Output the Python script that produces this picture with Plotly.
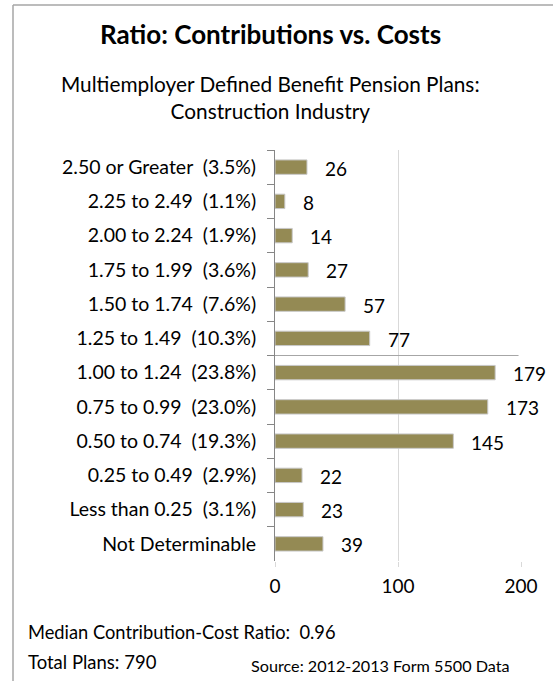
import plotly.graph_objects as go

categories = [
    "2.50 or Greater  (3.5%)",
    "2.25 to 2.49  (1.1%)",
    "2.00 to 2.24  (1.9%)",
    "1.75 to 1.99  (3.6%)",
    "1.50 to 1.74  (7.6%)",
    "1.25 to 1.49  (10.3%)",
    "1.00 to 1.24  (23.8%)",
    "0.75 to 0.99  (23.0%)",
    "0.50 to 0.74  (19.3%)",
    "0.25 to 0.49  (2.9%)",
    "Less than 0.25  (3.1%)",
    "Not Determinable",
]
plans = [26, 8, 14, 27, 57, 77, 179, 173, 145, 22, 23, 39]
x_ticks = [0, 100, 200]

title = "Ratio: Contributions vs. Costs"
subtitle = "Multiemployer Defined Benefit Pension Plans:<br>Construction Industry"
median_note = "Median Contribution-Cost Ratio:  0.96"
total_note = "Total Plans: 790"
source_note = "Source: 2012-2013 Form 5500 Data"

FONT = "Lato"
W, H = 553, 681


def px_x(x):
    return x / W


def px_y(y):
    return 1 - y / H


def keep_spaces(s):
    # SVG collapses runs of spaces; keep the double gaps visible
    return s.replace("  ", "\u00a0\u00a0")


cat_labels = [keep_spaces(c) for c in categories]

fig = go.Figure()
fig.add_trace(go.Bar(
    y=cat_labels, x=plans, orientation="h",
    marker=dict(color="#948A54", line=dict(color="#C8C8C8", width=1)),
    width=0.42, hoverinfo="x+y",
))

# value labels
for c, v in zip(cat_labels, plans):
    fig.add_annotation(x=v, y=c, xref="x", yref="y", text=str(v), showarrow=False,
                       xanchor="left", yanchor="middle", xshift=16, yshift=-1,
                       font=dict(family=FONT, size=19, color="#000000"))

fig.update_layout(
    width=W, height=H, autosize=False,
    margin=dict(l=0, r=0, t=0, b=0),
    paper_bgcolor="white", plot_bgcolor="white",
    showlegend=False,
    font=dict(family=FONT, color="#000000"),
    xaxis=dict(
        domain=[px_x(275), px_x(521)], range=[0, 200],
        tickvals=x_ticks, ticktext=[str(t) for t in x_ticks],
        showgrid=True, gridcolor="#D9D9D9", gridwidth=1,
        showline=False, zeroline=False,
        ticks="outside", ticklen=5, tickcolor="#D9D9D9",
        tickfont=dict(family=FONT, size=19), ticklabelstandoff=3,
        automargin=False,
    ),
    yaxis=dict(
        domain=[px_y(561), px_y(150)],
        autorange="reversed", type="category",
        showgrid=False, showline=True, linecolor="#868686", linewidth=1,
        ticks="outside", ticklen=7, tickcolor="#868686", tickson="boundaries",
        tickfont=dict(family=FONT, size=19.5), ticklabelstandoff=14,
        automargin=False,
    ),
)

# outer chart border (top and left edges visible in the crop)
fig.add_shape(type="line", xref="paper", yref="paper",
              x0=px_x(13), x1=1, y0=px_y(5), y1=px_y(5),
              line=dict(color="#A6A6A6", width=1.5))
fig.add_shape(type="line", xref="paper", yref="paper",
              x0=px_x(13), x1=px_x(13), y0=0, y1=px_y(5),
              line=dict(color="#A6A6A6", width=1.5))
# separator line between 1.25-1.49 and 1.00-1.24
fig.add_shape(type="line", xref="x", yref="y", x0=0, x1=198, y0=5.5, y1=5.5,
              line=dict(color="#A6A6A6", width=1))

fig.add_annotation(x=px_x(270), y=px_y(34), xref="paper", yref="paper", text="<b>" + title + "</b>",
                   showarrow=False, xanchor="center", yanchor="middle",
                   font=dict(family=FONT, size=26))
fig.add_annotation(x=px_x(270), y=px_y(97), xref="paper", yref="paper", text=subtitle,
                   showarrow=False, xanchor="center", yanchor="middle", align="center",
                   font=dict(family=FONT, size=20.8))
fig.add_annotation(x=px_x(26), y=px_y(632), xref="paper", yref="paper", text=keep_spaces(median_note),
                   showarrow=False, xanchor="left", yanchor="middle",
                   font=dict(family=FONT, size=18.3))
fig.add_annotation(x=px_x(26), y=px_y(662), xref="paper", yref="paper", text=total_note,
                   showarrow=False, xanchor="left", yanchor="middle",
                   font=dict(family=FONT, size=18.5))
fig.add_annotation(x=px_x(512), y=px_y(665), xref="paper", yref="paper", text=source_note,
                   showarrow=False, xanchor="right", yanchor="middle",
                   font=dict(family=FONT, size=16.2))

fig.write_html("out.html",
               config={"displayModeBar": False, "responsive": False},
               post_script="document.documentElement.style.overflow='hidden';"
                           "document.body.style.margin='0';document.body.style.overflow='hidden';")
